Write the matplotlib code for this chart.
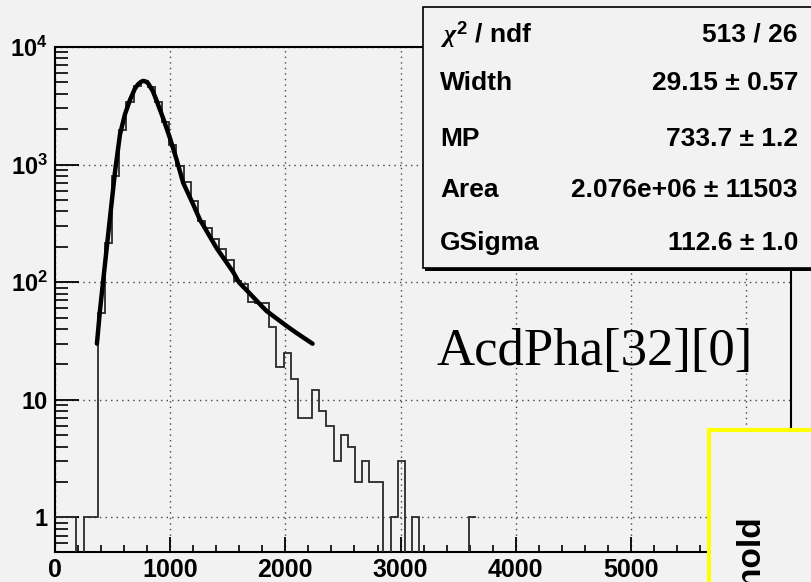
import numpy as np
import matplotlib
matplotlib.use("Agg")
import matplotlib.pyplot as plt
from matplotlib.patches import Rectangle
from matplotlib.ticker import FixedLocator, NullFormatter

plt.rcParams['font.family'] = ['Liberation Sans', 'DejaVu Sans']
plt.rcParams['font.weight'] = 'bold'
plt.rcParams['mathtext.fontset'] = 'custom'
plt.rcParams['mathtext.rm'] = 'Liberation Sans:bold'
plt.rcParams['mathtext.bf'] = 'Liberation Sans:bold'
plt.rcParams['mathtext.it'] = 'Liberation Serif:italic'

# histogram AcdPha[32][0], bin width 62
bin_width = 62
counts = [1, 1, 1, 0, 1, 1, 55, 215, 800, 1960,
          3440, 4700, 5100, 4600, 3400, 2300, 1480, 970, 705, 490,
          333, 288, 233, 190, 153, 103, 96, 68, 67, 67,
          42, 19, 25, 15, 7, 7, 12, 8, 6, 3,
          5, 4, 2, 3, 2, 2, 0, 1, 3, 0,
          1, 0, 0, 0, 0, 0, 0, 0, 1]

# fit curve
fit_x = [364, 390, 434, 477, 521, 564, 607, 651, 694, 720, 745, 766, 790,
         810, 850, 882, 940, 998, 1056, 1113, 1200, 1258, 1287, 1403,
         1547, 1596, 1692, 1779, 1836, 2010, 2097, 2236]
fit_y = [30, 57, 143, 350, 870, 1800, 2670, 3550, 4430, 4800, 5050, 5150, 5080,
         4890, 4200, 3500, 2460, 1680, 1100, 700, 458, 340, 305, 195,
         122, 100, 80, 65, 57, 42.5, 37, 30]

stat_names = [r'$\chi^{\mathbf{2}}$ / ndf', 'Width', 'MP', 'Area', 'GSigma']
stat_values = ['513 / 26', '29.15 \u00b1 0.57', '733.7 \u00b1 1.2',
               '2.076e+06 \u00b1 11503', '112.6 \u00b1 1.0']

W, H = 812, 582
bg = '#f2f2f2'


def fx(px):
    return px / W


def fy(py):
    return 1 - py / H


fig = plt.figure(figsize=(W / 100, H / 100), dpi=100, facecolor=bg)
ax = fig.add_axes([fx(55), fy(552), fx(791) - fx(55), fy(47) - fy(552)])
ax.set_facecolor(bg)

edges = np.arange(len(counts) + 1) * bin_width
vals = np.array(counts, dtype=float)
vals = np.where(vals > 0, vals, 1e-3)
ax.stairs(vals, edges, color='#2a2a2a', linewidth=1.3, baseline=None, zorder=3)
ax.plot(fit_x, fit_y, color='black', linewidth=3.2, solid_capstyle='round', zorder=4)

ax.set_yscale('log')
ax.set_xlim(0, 6390)
ax.set_ylim(0.508, 1e4)

ax.set_xticks(range(0, 6001, 1000))
ax.set_xticklabels([str(v) for v in range(0, 6001, 1000)])
ax.xaxis.set_minor_locator(FixedLocator(range(0, 6400, 200)))
ax.set_yticks([1, 10, 100, 1000, 10000])
ax.set_yticklabels(['1', '10', r'$\mathbf{10^{2}}$', r'$\mathbf{10^{3}}$', r'$\mathbf{10^{4}}$'])
minor_y = [m * 10 ** d for d in range(-1, 4) for m in range(2, 10)]
ax.yaxis.set_minor_locator(FixedLocator(minor_y))
ax.yaxis.set_minor_formatter(NullFormatter())

ax.tick_params(axis='both', which='major', direction='in', width=1.3, color='black')
ax.tick_params(axis='x', which='major', length=11, pad=4, labelsize=18)
ax.tick_params(axis='x', which='minor', direction='in', length=5, width=1.2)
ax.tick_params(axis='y', which='major', length=17, pad=5, labelsize=17)
ax.tick_params(axis='y', which='minor', direction='in', length=9, width=1.2)
for lab in ax.get_xticklabels() + ax.get_yticklabels():
    lab.set_fontweight('bold')

ax.grid(True, which='major', color='#444444', linestyle=(0, (1, 3)), linewidth=1.0)
for s in ax.spines.values():
    s.set_linewidth(1.5)
    s.set_color('black')

fig.text(fx(437), fy(365), 'AcdPha[32][0]', family='Liberation Serif',
         fontweight='normal', fontsize=38, va='baseline', ha='left')

# stats box
fig.patches.append(Rectangle((fx(425.5), fy(271)), fx(400), fy(10) - fy(271),
                             transform=fig.transFigure, facecolor='black',
                             edgecolor='none', zorder=5))
fig.patches.append(Rectangle((fx(423), fy(268)), fx(400), fy(7.5) - fy(268),
                             transform=fig.transFigure, facecolor=bg,
                             edgecolor='black', linewidth=1.2, zorder=6))
rows_y = [35, 83, 139, 190, 243]
for name, value, ry in zip(stat_names, stat_values, rows_y):
    fig.text(fx(440), fy(ry), name, fontsize=19, fontweight='bold',
             va='center', ha='left', zorder=7)
    fig.text(fx(798), fy(ry), value, fontsize=19, fontweight='bold',
             va='center', ha='right', zorder=7)

# yellow box at bottom right, its label runs off the bottom edge
fig.patches.append(Rectangle((fx(709), fy(600)), fx(200), fy(430) - fy(600),
                             transform=fig.transFigure, facecolor=bg,
                             edgecolor='#ffff00', linewidth=3, zorder=6))
fig.text(fx(752), fy(516), 'Threshold', rotation=90, fontsize=24,
         fontweight='bold', va='top', ha='center', zorder=7)

fig.savefig('out.png', dpi=100, facecolor=bg)
